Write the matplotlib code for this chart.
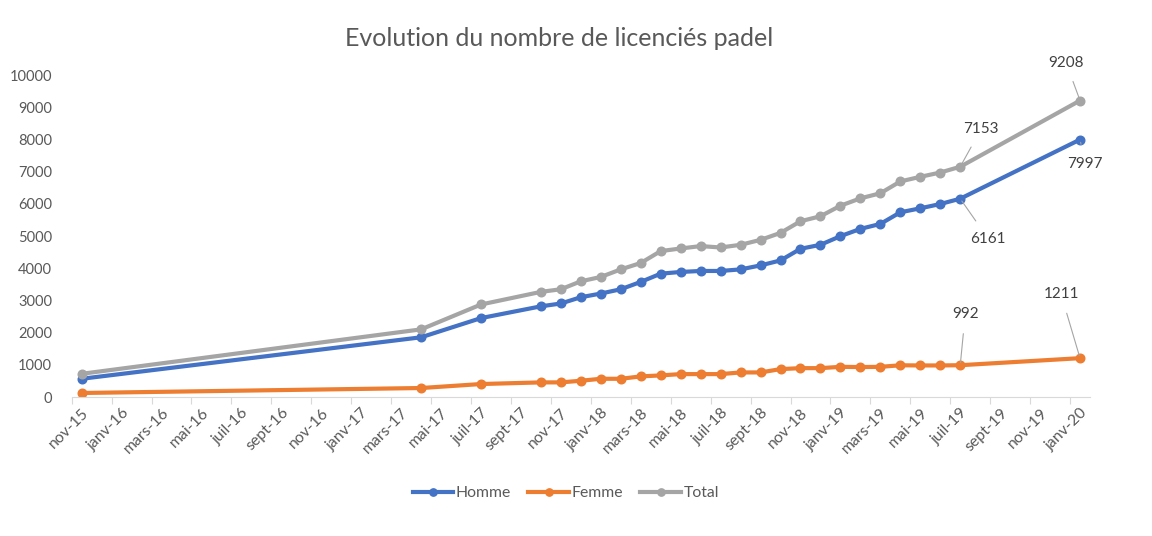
import matplotlib
matplotlib.use("Agg")
import matplotlib.pyplot as plt

plt.rcParams['font.family'] = ['Lato', 'DejaVu Sans']

# month index counted from nov-15 (0) to janv-20 (50)
months = [0, 17, 20, 23, 24, 25, 26, 27, 28, 29, 30, 31, 32, 33, 34, 35,
          36, 37, 38, 39, 40, 41, 42, 43, 44, 50]
homme = [571, 1859, 2455, 2820, 2908, 3103, 3217, 3350, 3578, 3834, 3887, 3918,
         3918, 3967, 4091, 4245, 4606, 4730, 4998, 5224, 5378, 5739, 5863, 5996,
         6161, 7997]
femme = [130, 284, 408, 459, 459, 510, 571, 571, 645, 676, 716, 716,
         716, 768, 768, 871, 901, 901, 942, 935, 942, 990, 985, 985,
         992, 1211]
total = [725, 2105, 2877, 3269, 3350, 3597, 3732, 3967, 4165, 4535, 4616, 4690,
         4647, 4730, 4884, 5100, 5461, 5616, 5943, 6172, 6330, 6697, 6840, 6974,
         7153, 9208]

tick_labels = ['nov-15', 'janv-16', 'mars-16', 'mai-16', 'juil-16', 'sept-16',
               'nov-16', 'janv-17', 'mars-17', 'mai-17', 'juil-17', 'sept-17',
               'nov-17', 'janv-18', 'mars-18', 'mai-18', 'juil-18', 'sept-18',
               'nov-18', 'janv-19', 'mars-19', 'mai-19', 'juil-19', 'sept-19',
               'nov-19', 'janv-20']

# (series, index of point, label offset in pixels)
callouts = [
    (total, 25, (-14, 38)),
    (total, 24, (21, 38)),
    (homme, 25, (5, -24)),
    (homme, 24, (28, -40)),
    (femme, 24, (5, 51)),
    (femme, 25, (-19, 64)),
]

text_col = '#595959'

fig = plt.figure(figsize=(11.52, 5.36), dpi=100)
ax = fig.add_axes([0.0622, 0.259, 0.884, 0.601])

ax.plot(months, homme, color='#4472C4', lw=3, marker='o', ms=6.2, label='Homme')
ax.plot(months, femme, color='#ED7D31', lw=3, marker='o', ms=6.2, label='Femme')
ax.plot(months, total, color='#A5A5A5', lw=3, marker='o', ms=6.2, label='Total')

for series, i, (dx, dy) in callouts:
    ax.annotate(str(series[i]), xy=(months[i], series[i]), xytext=(dx, dy),
                textcoords='offset pixels', ha='center', va='center',
                fontsize=11, color='#404040',
                arrowprops=dict(arrowstyle='-', color='#A5A5A5', lw=0.8,
                                shrinkA=7, shrinkB=2))

ax.set_xlim(-0.5, 50.5)
ax.set_ylim(0, 10000)
ax.set_yticks(range(0, 10001, 1000))
ax.set_xticks([m - 0.5 for m in range(0, 52, 2)], minor=False)
ax.set_xticklabels([])
ax.set_xticks(range(0, 51, 2), minor=True)
ax.set_xticklabels(tick_labels, minor=True, rotation=45, ha='right',
                   rotation_mode='anchor', fontsize=11.3, color=text_col)
ax.tick_params(axis='x', which='minor', length=0, pad=6)
ax.tick_params(axis='x', which='major', length=5, color='#D9D9D9')
ax.tick_params(axis='y', length=0, labelsize=10.5, labelcolor=text_col, pad=14)

for s in ['top', 'right', 'left']:
    ax.spines[s].set_visible(False)
ax.spines['bottom'].set_color('#D9D9D9')

fig.suptitle('Evolution du nombre de licenciés padel', x=0.485, y=0.95,
             fontsize=18, color=text_col)
fig.legend(loc='center', bbox_to_anchor=(0.491, 0.08), ncol=3, frameon=False,
           fontsize=11.3, labelcolor=text_col, handlelength=2.6,
           handletextpad=0.15, columnspacing=1.1, markerscale=0.85)

fig.savefig('out.png', dpi=100)
